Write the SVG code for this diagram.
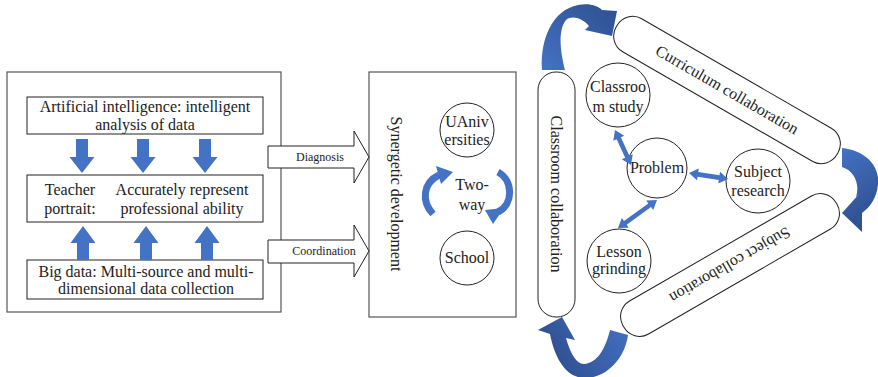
<svg xmlns="http://www.w3.org/2000/svg" width="878" height="377" viewBox="0 0 878 377">
<defs>
<style>
text{font-family:"Liberation Serif","Times New Roman",serif;font-size:16px;fill:#222;text-anchor:middle}
.sm{font-size:12px}
.box{fill:#fff;stroke:#222;stroke-width:1}
.outer{fill:#fff;stroke:#555;stroke-width:1.2}
.circ{fill:#fff;stroke:#222;stroke-width:1}
.blue{fill:#4472C4}
.bstroke{fill:none;stroke:#4472C4;stroke-width:7}
.blk{fill:#fff;stroke:#222;stroke-width:1}
</style>
<linearGradient id="g1" x1="0" y1="1" x2="1" y2="0"><stop offset="0" stop-color="#4472C4"/><stop offset="1" stop-color="#2F4F8F"/></linearGradient>
<linearGradient id="g2" x1="0" y1="0" x2="0.3" y2="1"><stop offset="0" stop-color="#4472C4"/><stop offset="1" stop-color="#2F4F8F"/></linearGradient>
<linearGradient id="g3" x1="1" y1="0" x2="0" y2="0.4"><stop offset="0" stop-color="#4472C4"/><stop offset="1" stop-color="#2F4F8F"/></linearGradient>
<path id="dn" d="M-6,0 H6 V18 H12.5 L0,34 L-12.5,18 H-6 Z"/>
<path id="up" d="M-6,34 H6 V17 H12.5 L0,0 L-12.5,17 H-6 Z"/>
</defs>

<g id="left-panel">
<rect class="outer" x="7" y="72" width="274" height="240"/>
</g>
<g id="ai-box">
<rect class="box" x="27" y="97" width="236" height="37"/>
<text x="145" y="112">Artificial intelligence: intelligent</text>
<text x="145" y="130">analysis of data</text>
</g>
<g id="portrait-box">
<rect class="box" x="27" y="175" width="236" height="47"/>
<text x="70" y="195">Teacher</text>
<text x="70" y="214">portrait:</text>
<text x="182" y="195">Accurately represent</text>
<text x="182" y="214">professional ability</text>
</g>
<g id="bigdata-box">
<rect class="box" x="27" y="260" width="236" height="39"/>
<text x="146" y="277">Big data: Multi-source and multi-</text>
<text x="146" y="294">dimensional data collection</text>
</g>

<g id="synergetic">
<rect class="outer" x="369" y="72" width="147" height="245"/>
<text transform="translate(391,194) rotate(90)">Synergetic development</text>
<text x="472" y="190">Two-</text>
<text x="472" y="210">way</text>
</g>
<g id="universities">
<circle class="circ" cx="467" cy="130" r="27"/>
<text x="467" y="127">UAniv</text>
<text x="467" y="145">ersities</text>
</g>
<g id="school">
<circle class="circ" cx="467" cy="258" r="27"/>
<text x="467" y="263">School</text>
</g>

<g id="classroom-collab">
<rect class="box" x="538" y="72" width="37" height="245" rx="18"/>
<text transform="translate(551,194) rotate(90)">Classroom collaboration</text>
</g>
<g id="curriculum-collab">
<rect class="box" x="-127.5" y="-19" width="255" height="38" rx="18" transform="translate(727,90) rotate(30)"/>
<text transform="translate(727,90) rotate(30)" y="5">Curriculum collaboration</text>
</g>
<g id="subject-collab">
<rect class="box" x="-123" y="-19" width="246" height="38" rx="18" transform="translate(730,265) rotate(150)"/>
<text transform="translate(730,265) rotate(150)" y="5">Subject collaboration</text>
</g>
<g id="classroom-study">
<circle class="circ" cx="618" cy="95" r="32"/>
<text x="618" y="92">Classroo</text>
<text x="618" y="112">m study</text>
</g>
<g id="problem">
<circle class="circ" cx="657" cy="168" r="30"/>
<text x="657" y="173">Problem</text>
</g>
<g id="subject-research">
<circle class="circ" cx="758" cy="181" r="32"/>
<text x="758" y="177">Subject</text>
<text x="758" y="196">research</text>
</g>
<g id="lesson-grinding">
<circle class="circ" cx="619" cy="261" r="32"/>
<text x="619" y="257">Lesson</text>
<text x="619" y="274">grinding</text>
</g>

<g id="connectors">
<use href="#dn" class="blue" x="82" y="139"/>
<use href="#dn" class="blue" x="143" y="139"/>
<use href="#dn" class="blue" x="205" y="139"/>
<use href="#up" class="blue" x="83" y="226"/>
<use href="#up" class="blue" x="146" y="226"/>
<use href="#up" class="blue" x="207" y="226"/>
<g id="diagnosis-arrow">
<path class="blk" d="M268,146 H354 V131 L369,157 L354,183 V168 H268 Z"/>
<text class="sm" x="320" y="161">Diagnosis</text>
</g>
<g id="coordination-arrow">
<path class="blk" d="M268,240 H354 V225 L369,251 L354,277 V263 H268 Z"/>
<text class="sm" x="324" y="255">Coordination</text>
</g>
<path class="bstroke" d="M433,214 C421,201 423,183 439,175"/>
<polygon class="blue" points="436,166 453,172 441,184"/>
<path class="bstroke" d="M498,172 C513,180 514,204 498,212"/>
<polygon class="blue" points="485,210 493,224 504,208"/>
<g transform="translate(615,130) rotate(65.4)"><polygon class="blue" points="0,0 9,-6 9,-2.3 29.5,-2.3 29.5,-6 38.5,0 29.5,6 29.5,2.3 9,2.3 9,6"/></g>
<g transform="translate(689,173) rotate(8.7)"><polygon class="blue" points="0,0 9,-6 9,-2.3 30.5,-2.3 30.5,-6 39.5,0 30.5,6 30.5,2.3 9,2.3 9,6"/></g>
<g transform="translate(657,200) rotate(144.3)"><polygon class="blue" points="0,0 9,-6 9,-2.3 39,-2.3 39,-6 48,0 39,6 39,2.3 9,2.3 9,6"/></g>
<path fill="url(#g1)" d="M542,70 C540,38 553,10 578,5 C590,3 598,6 602,10 L617,11 L612,36 L585,30 L589,26 C582,18 572,15 566,20 C558,30 560,50 565,70 Z"/>
<path fill="url(#g2)" d="M842,148 C864,150 880,165 878,184 C877,198 870,207 862,213 L862,232 L842,213 L860,193 L856,197 C860,185 855,171 842,167 Z"/>
<path fill="url(#g3)" d="M628,335 C625,358 607,378 585,378 C567,378 555,360 550,334 L538,330 L562,317 L575,340 L566,338 C570,352 576,364 584,364 C597,363 605,350 610,330 Z"/>
</g>
</svg>
